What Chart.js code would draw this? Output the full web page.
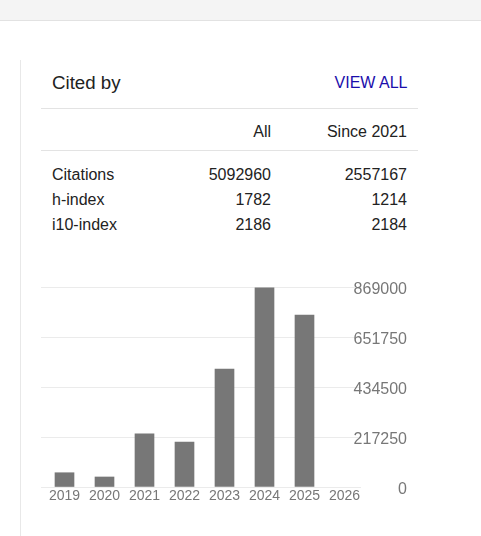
<!DOCTYPE html>
<html>
<head>
<meta charset="utf-8">
<script src="https://cdn.jsdelivr.net/npm/chart.js@4"></script>
<style>
  html, body { margin:0; padding:0; background:#fff; width:481px; height:536px; overflow:hidden; }
  body { position:relative; font-family:"Liberation Sans", Arial, sans-serif; color:#222; }
  .abs { position:absolute; line-height:1; white-space:nowrap; }
  #topbar { position:absolute; left:0; top:0; width:481px; height:20px; background:#f4f4f4; border-bottom:1px solid #e2e2e2; }
  #vline { position:absolute; left:20px; top:60px; width:1px; height:476px; background:#e8e8e8; }
  .hline { position:absolute; left:41px; width:377px; height:1px; background:#e3e3e3; }
  .r1 { left:0; width:271px; text-align:right; }
  .r2 { left:0; width:407px; text-align:right; }
  #wrap { position:absolute; left:41px; top:275px; width:366px; height:232px; }
</style>
</head>
<body>
<div id="topbar"></div>
<div id="vline"></div>
<div class="abs" style="left:52px; top:73.5px; font-size:18.7px;">Cited by</div>
<div class="abs" style="left:0; width:407.5px; text-align:right; top:75px; font-size:16px; color:#1a0dab;">VIEW ALL</div>
<div class="hline" style="top:108px;"></div>
<div class="abs r1" style="top:124px; font-size:16px;">All</div>
<div class="abs r2" style="top:124px; font-size:16px;">Since 2021</div>
<div class="hline" style="top:150px;"></div>
<div id="table"></div>
<div id="wrap"><canvas id="c" width="366" height="232"></canvas></div>
<script>
const metricNames = ["Citations", "h-index", "i10-index"];
const metricAll = [5092960, 1782, 2186];
const metricSince = [2557167, 1214, 2184];

const years = [2019, 2020, 2021, 2022, 2023, 2024, 2025, 2026];
const citations = [62000, 43500, 231500, 195500, 512500, 865000, 747000, null];
const yTicks = [0, 217250, 434500, 651750, 869000];

// table rows
const table = document.getElementById('table');
metricNames.forEach((name, i) => {
  const top = 167 + i * 25;
  table.insertAdjacentHTML('beforeend',
    `<div class="abs" style="left:52px; top:${top}px; font-size:16px;">${name}</div>` +
    `<div class="abs r1" style="top:${top}px; font-size:16px;">${metricAll[i]}</div>` +
    `<div class="abs r2" style="top:${top}px; font-size:16px;">${metricSince[i]}</div>`);
});

const ctx = document.getElementById('c').getContext('2d');
new Chart(ctx, {
  type: 'bar',
  data: {
    datasets: [{
      data: years.map((y, i) => ({ x: y, y: citations[i] })),
      backgroundColor: '#777777',
      barThickness: 19
    }]
  },
  options: {
    responsive: false,
    animation: false,
    events: [],
    layout: { padding: { top: 12, left: 0, right: 0, bottom: 0 } },
    plugins: { legend: { display: false }, tooltip: { enabled: false } },
    scales: {
      x: {
        type: 'linear',
        min: years[0] - 0.5875,
        max: years[years.length - 1] + 0.4125,
        offset: false,
        grid: { display: false, drawTicks: false },
        border: { display: false },
        afterBuildTicks: s => { s.ticks = years.map(v => ({ value: v })); },
        afterFit: s => { s.height = 20; },
        ticks: {
          padding: 1,
          color: '#777',
          font: { family: '"Liberation Sans", Arial, sans-serif', size: 14 },
          maxRotation: 0,
          autoSkip: false,
          callback: v => String(v)
        }
      },
      y: {
        position: 'right',
        min: 0,
        max: yTicks[yTicks.length - 1],
        grid: { color: '#ebebeb', drawTicks: false },
        border: { display: false },
        afterBuildTicks: s => { s.ticks = yTicks.map(v => ({ value: v })); },
        afterFit: s => { s.width = 46; s._computeLabelArea = () => undefined; },
        ticks: {
          crossAlign: 'far',
          padding: 0,
          labelOffset: 2.5,
          color: '#777',
          font: { family: '"Liberation Sans", Arial, sans-serif', size: 16 },
          callback: v => String(v)
        }
      }
    }
  }
});
</script>
</body>
</html>
